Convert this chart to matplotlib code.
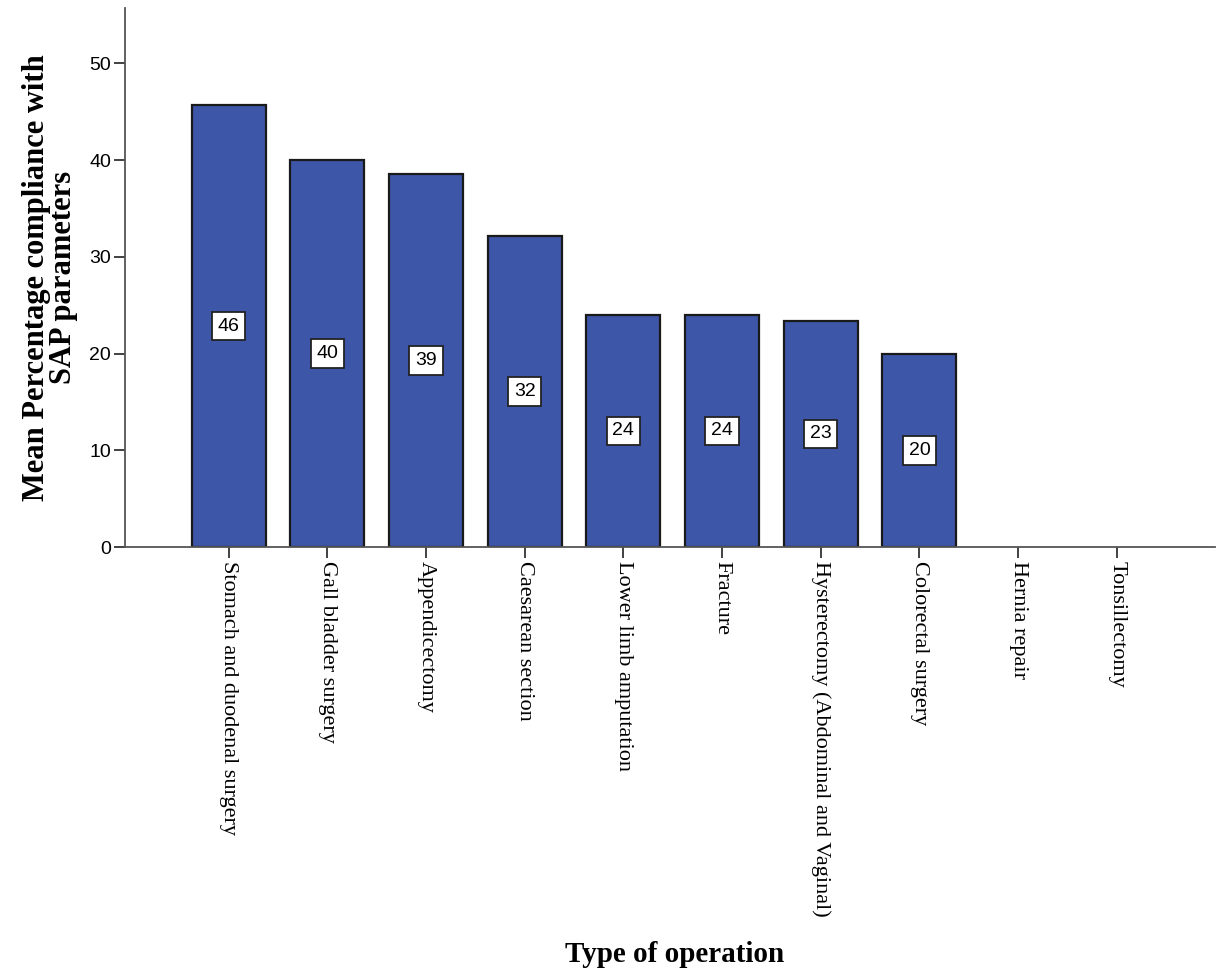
import matplotlib.pyplot as plt

operations = [
    "Stomach and duodenal surgery",
    "Gall bladder surgery",
    "Appendicectomy",
    "Caesarean section",
    "Lower limb amputation",
    "Fracture",
    "Hysterectomy (Abdominal and Vaginal)",
    "Colorectal surgery",
    "Hernia repair",
    "Tonsillectomy",
]
compliance = [45.7, 40.0, 38.6, 32.2, 24.0, 24.0, 23.4, 20.0, 0.0, 0.0]
yticks = [0, 10, 20, 30, 40, 50]

bar_color = "#3d56a8"
axis_color = "#555555"

fig = plt.figure(figsize=(12.28, 9.76), dpi=100)
ax = fig.add_axes([0.1018, 0.4395, 0.888, 0.552])

x = list(range(len(operations)))
# categories with no compliance get no bar at all
shown = [(xi, v) for xi, v in zip(x, compliance) if v > 0]
ax.bar([s[0] for s in shown], [s[1] for s in shown], width=0.75, color=bar_color,
       edgecolor="#1a1a1a", linewidth=1.6, zorder=2)

# value boxes at half height of each bar
for xi, val in shown:
    ax.text(xi, val / 2, f"{val:.0f}", ha="center", va="center",
            fontsize=14, family="Liberation Sans", color="black", zorder=3,
            bbox=dict(boxstyle="square,pad=0.3", facecolor="white",
                      edgecolor="#222222", linewidth=1.3))

ax.set_xlim(-1.05, 10.0)
ax.set_ylim(0, 55.7)
ax.set_yticks(yticks)
ax.set_yticklabels([str(t) for t in yticks], family="Liberation Sans", fontsize=14)
ax.set_xticks(x)
ax.set_xticklabels(operations, rotation=270, family="Liberation Serif",
                   fontsize=16, va="top", ha="center")

for side in ("top", "right"):
    ax.spines[side].set_visible(False)
for side in ("left", "bottom"):
    ax.spines[side].set_color(axis_color)
    ax.spines[side].set_linewidth(1.3)

ax.tick_params(axis="both", direction="out", length=8, width=1.3, color="#333333", pad=2)

ax.set_ylabel("Mean Percentage compliance with\nSAP parameters", family="Liberation Serif",
              fontweight="bold", fontsize=22, linespacing=0.9, labelpad=8)
fig.text(0.549, 0.008, "Type of operation", family="Liberation Serif",
         fontweight="bold", fontsize=21, ha="center", va="bottom")

fig.savefig("out.png", dpi=100)
